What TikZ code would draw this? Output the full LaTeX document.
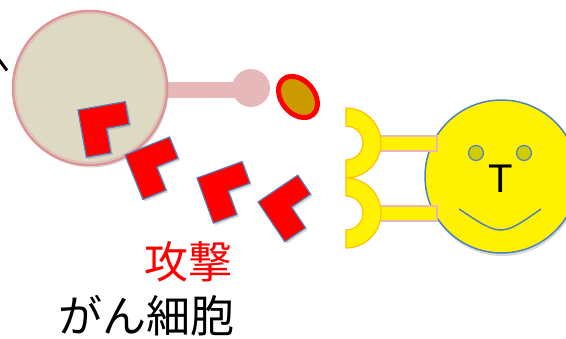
\documentclass[tikz,border=0pt]{standalone}
\usepackage{fontspec}
\setmainfont{Liberation Sans}
\newfontfamily\jpfont{Noto Sans CJK JP}
\usetikzlibrary{shadows}

\definecolor{celltan}{RGB}{221,217,195}
\definecolor{cellrim}{RGB}{217,150,148}
\definecolor{stickpink}{RGB}{230,185,184}
\definecolor{antigold}{RGB}{204,153,0}
\definecolor{edgeblue}{RGB}{79,129,189}
\definecolor{recorange}{RGB}{255,192,0}
\definecolor{eyeolive}{RGB}{204,204,0}

\tikzset{blocker/.style = {fill=red, draw=edgeblue, line width=1.2pt, line join=miter,
                           drop shadow={shadow xshift=2pt, shadow yshift=-2pt, opacity=.3}}}
\tikzset{receptor/.style = {fill=yellow, draw=recorange, line width=1.2pt}}
\tikzset{stem/.style = {fill=yellow, draw=stickpink, line width=1.2pt}}
\tikzset{face/.style = {draw=edgeblue, line width=1.5pt}}

% one red blocking piece: corner, turn
\newcommand{\blocker}[3]{%
  \draw[blocker, shift={(#1,#2)}, rotate=#3]
    (0,0) -- (48,0) -- (48,23) -- (25,23) -- (25,48) -- (0,48) -- cycle;}

\begin{document}
\begin{tikzpicture}[x=1pt, y=-1pt]
      \useasboundingbox (0,0) rectangle (566,339);

      % arrow coming in from the left
      \draw[line width=3pt] (-3,57) -- (7,70.5);

      % cancer cell with its antigen stick
      \fill[stickpink] (150,82) rectangle (251,98);
      \fill[stickpink] (251,88) circle (19);
      \draw[fill=celltan, draw=cellrim, line width=2.5pt,
            drop shadow={shadow xshift=1.5pt, shadow yshift=-2.5pt, opacity=.3}] (90,88) circle (77);
      \draw[stickpink, line width=1pt] (90,88) circle (74.5);

      % antigen
      \draw[fill=antigold, draw=red, line width=5pt, rotate around={-50:(298,97)}]
        (298,97) ellipse [x radius=23, y radius=16.5];

      % blocking pieces
      \blocker{78}{110}{10}
      \blocker{125}{155}{22}
      \blocker{197}{178}{20}
      \blocker{258}{202}{34}

      % T cell
      \draw[fill=yellow, draw=edgeblue, line width=1.5pt,
            drop shadow={shadow xshift=1pt, shadow yshift=-3pt, opacity=.3}] (501.5,176.5) circle (76.5);
      \draw[fill=eyeolive, draw=edgeblue, line width=1.2pt] (476,153) circle (7.5);
      \draw[fill=eyeolive, draw=edgeblue, line width=1.2pt] (524,153) circle (7.5);
      \draw[face] (459,209) .. controls (501,237) .. (541,209);
      \node (tlabel) at (501,179) {\fontsize{40}{40}\selectfont T};

      % receptors
      \draw[stem] (378,136) rectangle (437,151);
      \draw[stem] (378,206) rectangle (437,221);
      \draw[receptor] (346,108) arc[start angle=-90, end angle=90, radius=35]
        -- (346,160) arc[start angle=90, end angle=-90, radius=17] -- cycle;
      \draw[receptor] (346,178) arc[start angle=-90, end angle=90, radius=35]
        -- (346,230) arc[start angle=90, end angle=-90, radius=17] -- cycle;

      % labels
      \node[red] (attack) at (188,262) {\jpfont\fontsize{44}{44}\selectfont 攻撃};
      \node (cancer) at (147,316) {\jpfont\fontsize{44}{44}\selectfont がん細胞};
    \end{tikzpicture}
\end{document}
